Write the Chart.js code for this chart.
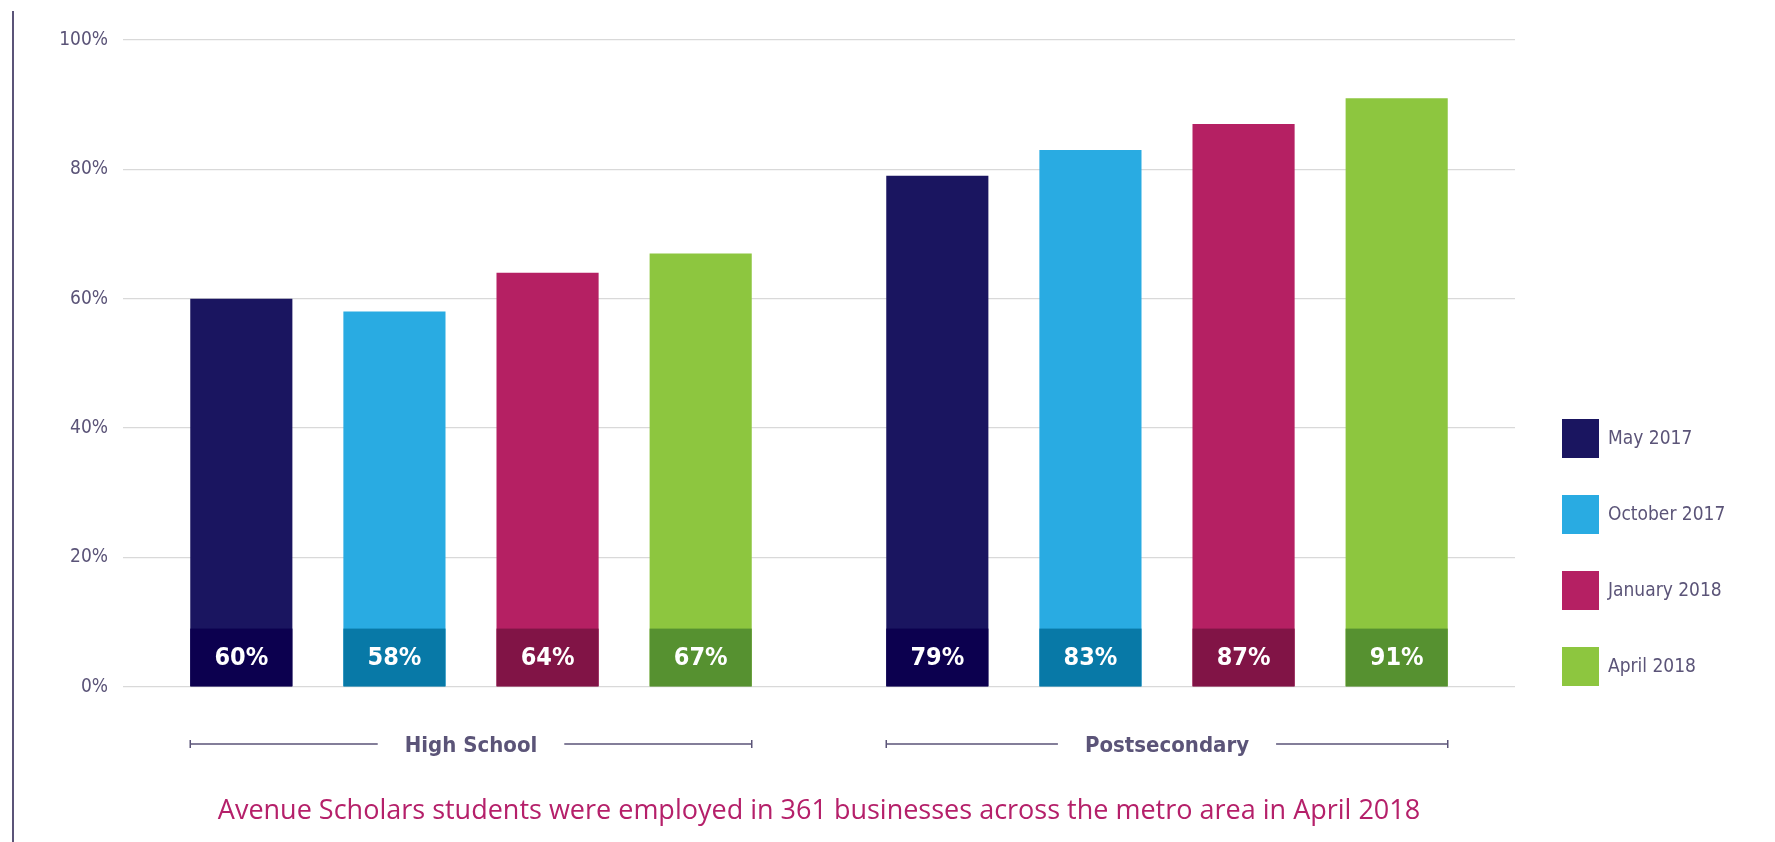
<!DOCTYPE html>
<html lang="en">
<head>
  <meta charset="UTF-8">
  <title>Avenue Scholars employment</title>
  <script src="https://cdn.jsdelivr.net/npm/chart.js"></script>
  <style>
    body {
      margin: 0;
      background: #ffffff;
    }

    #frame {
      position: absolute;
      left: 12px;
      top: 11px;
      width: 30px;
      height: 840px;
      border-left: 2px solid #5b5478;
      border-bottom-left-radius: 6px;
    }

    #grafico {
      position: absolute;
      left: 0;
      top: 0;
    }
  </style>
</head>
<body>
  <div id="frame"></div>
  <canvas id="grafico" width="1775" height="842"></canvas>

<script>
  // data
  const categories = ['High School', 'Postsecondary'];
  const seriesNames = ['May 2017', 'October 2017', 'January 2018', 'April 2018'];
  const may2017 = [60, 79];
  const oct2017 = [58, 83];
  const jan2018 = [64, 87];
  const apr2018 = [67, 91];
  const yTicks = [0, 20, 40, 60, 80, 100];
  const caption = 'Avenue Scholars students were employed in 361 businesses across the metro area in April 2018';

  const barColors = ['#1a1560', '#29abe2', '#b52063', '#8dc63f'];
  const bandColors = ['#0c004f', '#0879a7', '#811446', '#569130'];
  const textColor = '#5b5478';
  const narrow = "'Liberation Sans Narrow', 'DejaVu Sans Condensed', 'Roboto Condensed', sans-serif";

  const seriesValues = [may2017, oct2017, jan2018, apr2018];

  // dark band with the value at the foot of each bar
  const valueBands = {
    id: 'valueBands',
    afterDatasetsDraw(chart) {
      const ctx = chart.ctx;
      const base = chart.scales.y.getPixelForValue(0);
      const bandH = 58;
      ctx.save();
      chart.data.datasets.forEach((ds, i) => {
        chart.getDatasetMeta(i).data.forEach((bar, j) => {
          const left = bar.x - bar.width / 2;
          ctx.fillStyle = bandColors[i];
          ctx.fillRect(left, base - bandH, bar.width, bandH);
          ctx.fillStyle = '#ffffff';
          ctx.font = "bold 25px " + narrow;
          ctx.textAlign = 'center';
          ctx.textBaseline = 'middle';
          ctx.fillText(ds.data[j] + '%', bar.x, base - bandH / 2 + 1);
        });
      });
      ctx.restore();
    }
  };

  // bracket lines either side of the category labels
  const brackets = {
    id: 'brackets',
    afterDraw(chart) {
      const ctx = chart.ctx;
      const xScale = chart.scales.x;
      const first = chart.getDatasetMeta(0).data;
      const last = chart.getDatasetMeta(chart.data.datasets.length - 1).data;
      const y = 744;
      ctx.save();
      ctx.strokeStyle = textColor;
      ctx.lineWidth = 1.5;
      ctx.font = "bold 22px " + narrow;
      categories.forEach((c, j) => {
        const x0 = first[j].x - first[j].width / 2;
        const x1 = last[j].x + last[j].width / 2;
        const cx = xScale.getPixelForTick(j);
        const half = ctx.measureText(c).width / 2 + 27;
        ctx.beginPath();
        ctx.moveTo(x0, y); ctx.lineTo(cx - half, y);
        ctx.moveTo(cx + half, y); ctx.lineTo(x1, y);
        ctx.moveTo(x0, y - 4); ctx.lineTo(x0, y + 4);
        ctx.moveTo(x1, y - 4); ctx.lineTo(x1, y + 4);
        ctx.stroke();
      });
      ctx.restore();
    }
  };

  // legend on the right
  const sideLegend = {
    id: 'sideLegend',
    afterDraw(chart) {
      const ctx = chart.ctx;
      ctx.save();
      ctx.font = "19px " + narrow;
      ctx.textBaseline = 'middle';
      ctx.textAlign = 'left';
      chart.data.datasets.forEach((ds, i) => {
        const top = 419 + i * 76;
        ctx.fillStyle = ds.backgroundColor;
        ctx.fillRect(1562, top, 37, 39);
        ctx.fillStyle = textColor;
        ctx.fillText(ds.label, 1608, top + 20);
      });
      ctx.restore();
    }
  };

  const ctx = document.getElementById('grafico').getContext('2d');
  const grafico = new Chart(ctx, {
    type: 'bar',
    data: {
      labels: categories,
      datasets: seriesNames.map((name, i) => ({
        label: name,
        data: seriesValues[i],
        backgroundColor: barColors[i],
        borderWidth: 0,
        categoryPercentage: 0.88,
        barPercentage: 0.667
      }))
    },
    options: {
      responsive: false,
      animation: false,
      layout: {
        padding: { top: 40, right: 260, bottom: 0, left: 0 }
      },
      scales: {
        x: {
          grid: { display: false },
          border: { display: false },
          afterFit(scale) { scale.height = 109; },
          ticks: {
            color: textColor,
            padding: 38,
            font: { family: narrow, size: 22, weight: 'bold' }
          }
        },
        y: {
          min: 0,
          max: 100,
          z: 1,
          afterFit(scale) { scale.width = 123; },
          afterBuildTicks(scale) { scale.ticks = yTicks.map(v => ({ value: v })); },
          border: { display: false },
          grid: {
            color: 'rgba(0,0,0,0.15)',
            lineWidth: 1.2,
            drawTicks: false
          },
          ticks: {
            color: textColor,
            padding: 15,
            font: { family: narrow, size: 19 },
            callback: v => v + '%'
          }
        }
      },
      plugins: {
        legend: { display: false },
        tooltip: { enabled: false },
        title: {
          display: true,
          position: 'bottom',
          fullSize: false,
          text: caption,
          color: '#b5206a',
          padding: { top: 0, bottom: 14 },
          font: { family: "'Open Sans', 'Noto Sans', sans-serif", size: 27, weight: 'normal' }
        }
      }
    },
    plugins: [valueBands, brackets, sideLegend]
  });
</script>
</body>
</html>
